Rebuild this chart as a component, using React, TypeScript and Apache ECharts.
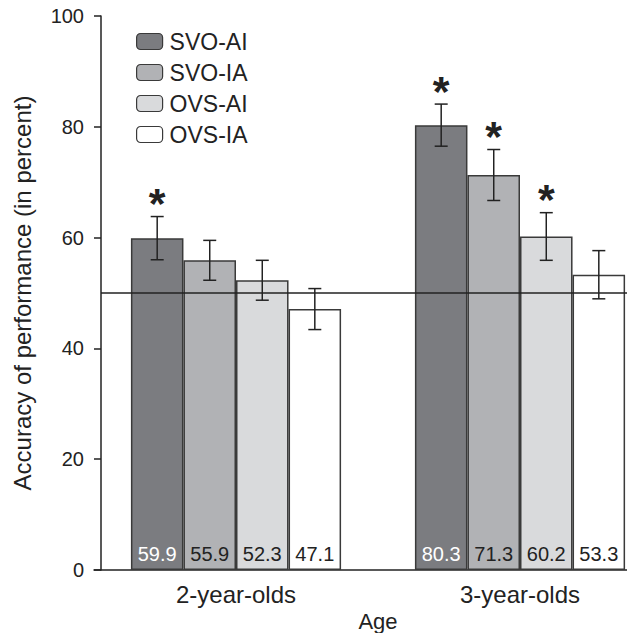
import React, { useEffect, useRef } from "react";
import * as echarts from "echarts";

const categories = ["2-year-olds", "3-year-olds"];
const seriesNames = ["SVO-AI", "SVO-IA", "OVS-AI", "OVS-IA"];
const svoAI = [59.9, 80.3];
const svoIA = [55.9, 71.3];
const ovsAI = [52.3, 60.2];
const ovsIA = [47.1, 53.3];
const svoAIErr = [3.9, 3.8];
const svoIAErr = [3.6, 4.6];
const ovsAIErr = [3.6, 4.3];
const ovsIAErr = [3.7, 4.35];
const svoAISig = [true, true];
const svoIASig = [false, true];
const ovsAISig = [false, true];
const ovsIASig = [false, false];
const chanceLevel = 50;
const yTicks = [0, 20, 40, 60, 80, 100];

const FONT = "'Liberation Sans', Arial, Helvetica, sans-serif";
const colors = ["#7b7c80", "#b1b2b5", "#d9dadc", "#ffffff"];
const labelColors = ["#ffffff", "#222222", "#222222", "#222222"];
const BAR_GAP = 0.26;

export default function App() {
  const ref = useRef<HTMLDivElement>(null);
  useEffect(() => {
    document.body.style.margin = "0";
    const chart = echarts.init(ref.current!, null, { renderer: "svg" });
    const values = [svoAI, svoIA, ovsAI, ovsIA];
    const errs = [svoAIErr, svoIAErr, ovsAIErr, ovsIAErr];
    const sigs = [svoAISig, svoIASig, ovsAISig, ovsIASig];

    const errData: any[] = [];
    values.forEach((vals, s) => {
      vals.forEach((v, c) => {
        errData.push([c, s, v - errs[s][c], v + errs[s][c], sigs[s][c] ? 1 : 0]);
      });
    });

    const barSeries = values.map((vals, s) => ({
      name: seriesNames[s],
      type: "bar",
      data: vals,
      barGap: "0%",
      barCategoryGap: BAR_GAP * 100 + "%",
      itemStyle: { color: colors[s], borderColor: "#3a3a3a", borderWidth: 1.5 },
      label: {
        show: true,
        position: "insideBottom",
        distance: 6,
        fontSize: 20,
        fontFamily: FONT,
        color: labelColors[s],
        formatter: (p: any) => p.value.toFixed(1),
      },
      z: 2,
    }));

    const option: any = {
      animation: false,
      backgroundColor: "#ffffff",
      textStyle: { fontFamily: FONT },
      grid: {
        left: 94,
        top: 16,
        width: 568,
        height: 554,
        containLabel: false,
        outerBoundsMode: "none",
      },
      legend: {
        orient: "vertical",
        left: 131,
        top: 25,
        itemWidth: 26,
        itemHeight: 16,
        itemGap: 8,
        data: seriesNames,
        textStyle: {
          fontSize: 23,
          lineHeight: 23,
          color: "#222",
          fontFamily: FONT,
          padding: [0, 0, 0, 2],
        },
        itemStyle: { borderColor: "#3a3a3a", borderWidth: 1.2 },
        selectedMode: false,
      },
      xAxis: {
        type: "category",
        data: categories,
        name: "Age",
        nameLocation: "middle",
        nameGap: 37,
        nameTextStyle: { fontSize: 22, lineHeight: 22, color: "#222", fontFamily: FONT },
        axisLine: { lineStyle: { color: "#222", width: 1.5 } },
        axisTick: { alignWithLabel: true, length: 10, lineStyle: { color: "#222", width: 1.5 } },
        axisLabel: { fontSize: 24, color: "#222", margin: 12, fontFamily: FONT },
      },
      yAxis: {
        type: "value",
        min: 0,
        max: 100,
        interval: 20,
        offset: -7,
        name: "Accuracy of performance (in percent)",
        nameLocation: "middle",
        nameGap: 67,
        nameRotate: 90,
        nameTextStyle: { fontSize: 24, color: "#222", fontFamily: FONT },
        axisLine: { show: true, lineStyle: { color: "#222", width: 1.5 } },
        axisTick: { show: true, length: 7, lineStyle: { color: "#222", width: 1.5 } },
        axisLabel: {
          fontSize: 20,
          color: "#222",
          margin: 17,
          fontFamily: FONT,
          formatter: (v: number) => (yTicks.includes(v) ? String(v) : ""),
        },
        splitLine: { show: false },
      },
      series: [
        ...barSeries,
        {
          type: "custom",
          name: "chance",
          data: [[0, chanceLevel]],
          z: 3,
          silent: true,
          renderItem: (params: any, api: any) => {
            const cs = params.coordSys;
            const y = api.coord([0, api.value(1)])[1];
            return {
              type: "line",
              shape: { x1: cs.x + 7, y1: y, x2: cs.x + cs.width, y2: y },
              style: { stroke: "#222", lineWidth: 1.5 },
            };
          },
        },
        {
          type: "custom",
          name: "errors",
          data: errData,
          z: 4,
          silent: true,
          renderItem: (params: any, api: any) => {
            const c = api.value(0);
            const s = api.value(1);
            const lo = api.value(2);
            const hi = api.value(3);
            const sig = api.value(4);
            const band = api.size([1, 0])[0];
            const groupW = band * (1 - BAR_GAP);
            const bw = groupW / 4;
            const center = api.coord([c, 0])[0];
            const x = center - groupW / 2 + bw * (s + 0.5);
            const yLo = api.coord([c, lo])[1];
            const yHi = api.coord([c, hi])[1];
            const cap = 6.5;
            const st = { stroke: "#222", lineWidth: 1.5 };
            const children: any[] = [
              { type: "line", shape: { x1: x, y1: yLo, x2: x, y2: yHi }, style: st },
              { type: "line", shape: { x1: x - cap, y1: yLo, x2: x + cap, y2: yLo }, style: st },
              { type: "line", shape: { x1: x - cap, y1: yHi, x2: x + cap, y2: yHi }, style: st },
            ];
            if (sig) {
              children.push({
                type: "text",
                x: x,
                y: yHi + 8,
                style: {
                  text: "*",
                  fontSize: 43,
                  fontWeight: "bold",
                  fontFamily: FONT,
                  fill: "#222",
                  align: "center",
                  verticalAlign: "bottom",
                },
              });
            }
            return { type: "group", children };
          },
        },
      ],
    };
    chart.setOption(option);
    return () => chart.dispose();
  }, []);
  return (
    <div
      style={{
        position: "absolute",
        left: 0,
        top: 0,
        width: 627,
        height: 633,
        overflow: "hidden",
      }}
    >
      <div ref={ref} style={{ width: 680, height: 633 }} />
    </div>
  );
}
